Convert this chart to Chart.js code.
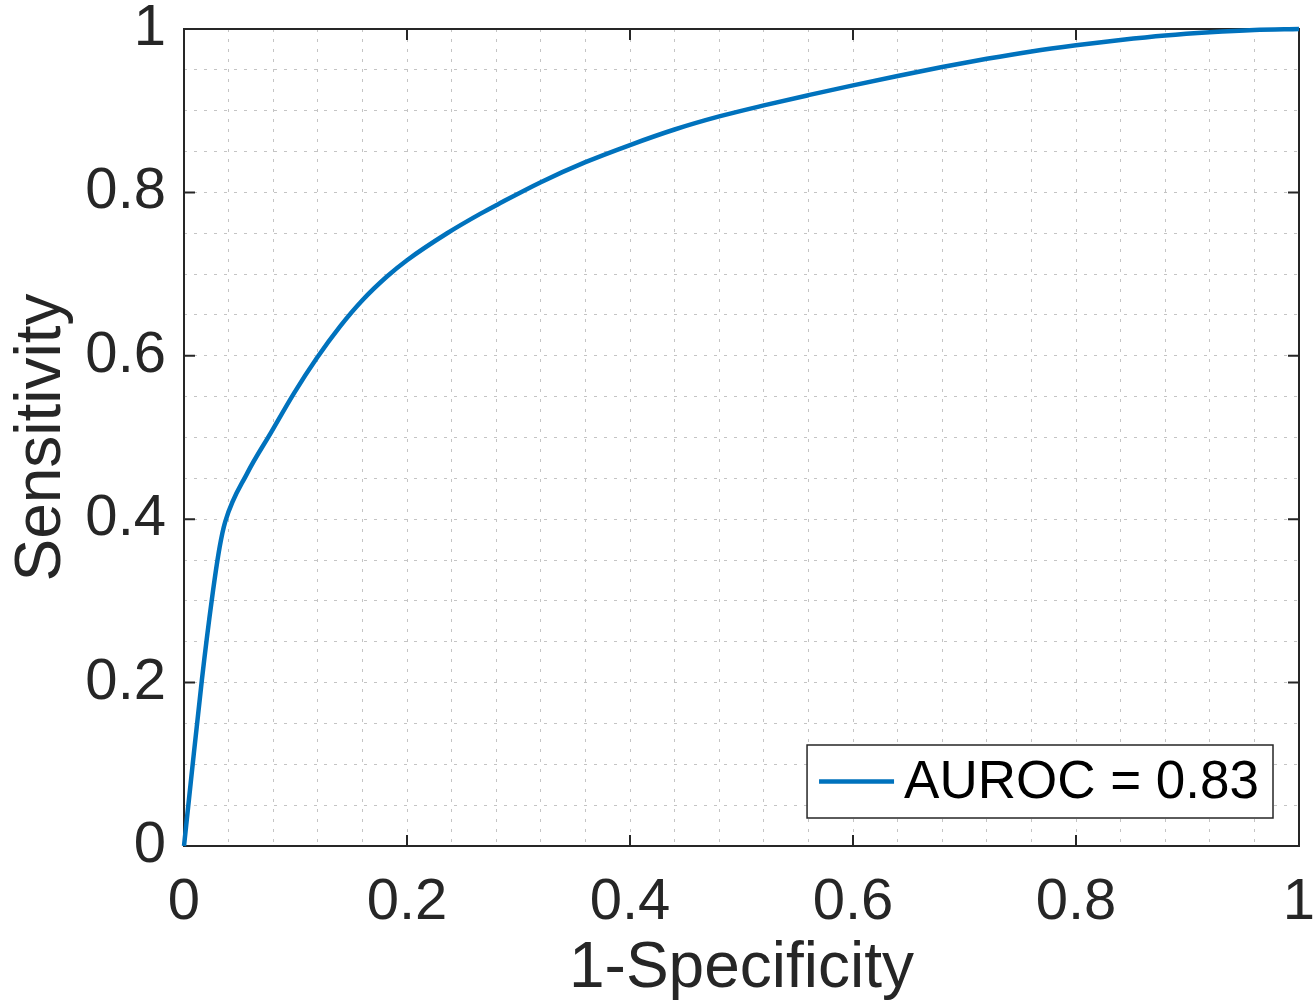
<!DOCTYPE html>
<html><head><meta charset="utf-8">
<script src="https://cdn.jsdelivr.net/npm/chart.js@4.4.1/dist/chart.umd.min.js"></script>
<style>html,body{margin:0;padding:0;background:#fff;}canvas{display:block;}</style>
</head><body>
<canvas id="roc" width="1316" height="1008"></canvas>
<script>
// ROC curve points (false positive rate / true positive rate)
var fpr=[0,0.006,0.016,0.025,0.032,0.037,0.057,0.078,0.099,0.119,0.14,0.16,0.182,0.2,0.236,0.266,0.281,0.32,0.36,0.4,0.44,0.48,0.52,0.56,0.6,0.64,0.68,0.72,0.76,0.8,0.84,0.88,0.92,0.96,1];
var tpr=[0,0.077,0.203,0.302,0.366,0.397,0.457,0.506,0.555,0.597,0.636,0.668,0.697,0.717,0.750,0.774,0.785,0.8125,0.837,0.858,0.877,0.893,0.9065,0.919,0.931,0.9425,0.9535,0.9635,0.9725,0.98,0.9865,0.992,0.996,0.9988,1];
var x_ticks=[0,0.2,0.4,0.6,0.8,1];
var y_ticks=[0,0.2,0.4,0.6,0.8,1];
var x_minor_step=0.04,y_minor_step=0.05;
var series_label='AUROC = 0.83';
var x_title='1-Specificity',y_title='Sensitivity';

var AX='#262626',GRID='#c4c4c4',BLUE='#0072BD',FONT='"Liberation Sans", Arial, Helvetica, sans-serif';
var pts=[];for(var i=0;i<fpr.length;i++){pts.push({x:fpr[i],y:tpr[i]});}
var major_lbl=function(list){return function(v){var r=Math.round(v*1000)/1000;return list.indexOf(r)>-1?String(r):'';};};

// box + inward tick marks, drawn under the curve
var axes_box={id:'axes_box',beforeDatasetsDraw:function(c){var a=c.chartArea,ctx=c.ctx,sx=c.scales.x,sy=c.scales.y,tl=11;
	ctx.save();ctx.strokeStyle=AX;ctx.lineWidth=2;ctx.setLineDash([]);
	ctx.strokeRect(a.left,a.top,a.right-a.left,a.bottom-a.top);
	ctx.beginPath();
	x_ticks.forEach(function(v){var p=sx.getPixelForValue(v);ctx.moveTo(p,a.bottom);ctx.lineTo(p,a.bottom-tl);ctx.moveTo(p,a.top);ctx.lineTo(p,a.top+tl);});
	y_ticks.forEach(function(v){var p=sy.getPixelForValue(v);ctx.moveTo(a.left,p);ctx.lineTo(a.left+tl,p);ctx.moveTo(a.right,p);ctx.lineTo(a.right-tl,p);});
	ctx.stroke();ctx.restore();}};

// legend box in the lower right corner of the plot
var corner_legend={id:'corner_legend',afterDraw:function(c){var a=c.chartArea,ctx=c.ctx,ds=c.data.datasets[0];
	ctx.save();ctx.font='53px '+FONT;var tw=ctx.measureText(ds.label).width;
	var w=12+75+10+tw+14,h=73,x=a.right-26-w,y=a.bottom-28-h;
	ctx.fillStyle='#fff';ctx.fillRect(x,y,w,h);ctx.strokeStyle=AX;ctx.lineWidth=1.5;ctx.strokeRect(x,y,w,h);
	ctx.strokeStyle=ds.borderColor;ctx.lineWidth=ds.borderWidth;ctx.beginPath();ctx.moveTo(x+12,y+h/2);ctx.lineTo(x+87,y+h/2);ctx.stroke();
	ctx.fillStyle='#000';ctx.textBaseline='middle';ctx.textAlign='left';ctx.fillText(ds.label,x+97,y+h/2+2);
	ctx.restore();}};

new Chart(document.getElementById('roc'),{type:'scatter',
	data:{datasets:[{label:series_label,data:pts,showLine:true,borderColor:BLUE,backgroundColor:BLUE,borderWidth:4.5,pointRadius:0,cubicInterpolationMode:'monotone',clip:false}]},
	options:{responsive:false,animation:false,events:[],
		layout:{padding:{top:29,right:17,left:0,bottom:0}},
		plugins:{legend:{display:false},tooltip:{enabled:false}},
		scales:{
			x:{type:'linear',min:0,max:1,afterFit:function(s){s.height=162;s.paddingLeft=0;s.paddingRight=0;},
				border:{display:false,dash:[3,7]},
				grid:{color:GRID,lineWidth:1,drawTicks:false,borderDash:[3,7]},
				ticks:{stepSize:x_minor_step,maxTicksLimit:100,autoSkip:false,maxRotation:0,padding:22,color:AX,font:{family:FONT,size:58},callback:major_lbl(x_ticks)},
				title:{display:true,text:x_title,color:AX,font:{family:FONT,size:64},padding:{top:0,bottom:0}}},
			y:{type:'linear',min:0,max:1,afterFit:function(s){s.width=184;s.paddingTop=0;s.paddingBottom=0;},
				border:{display:false,dash:[3,7]},
				grid:{color:GRID,lineWidth:1,drawTicks:false,borderDash:[3,7]},
				ticks:{stepSize:y_minor_step,maxTicksLimit:100,autoSkip:false,padding:18,color:AX,font:{family:FONT,size:58},callback:major_lbl(y_ticks)},
				title:{display:true,text:y_title,color:AX,font:{family:FONT,size:64},padding:{top:4,bottom:0}}}
		}},
	plugins:[axes_box,corner_legend]});
</script>
</body></html>
